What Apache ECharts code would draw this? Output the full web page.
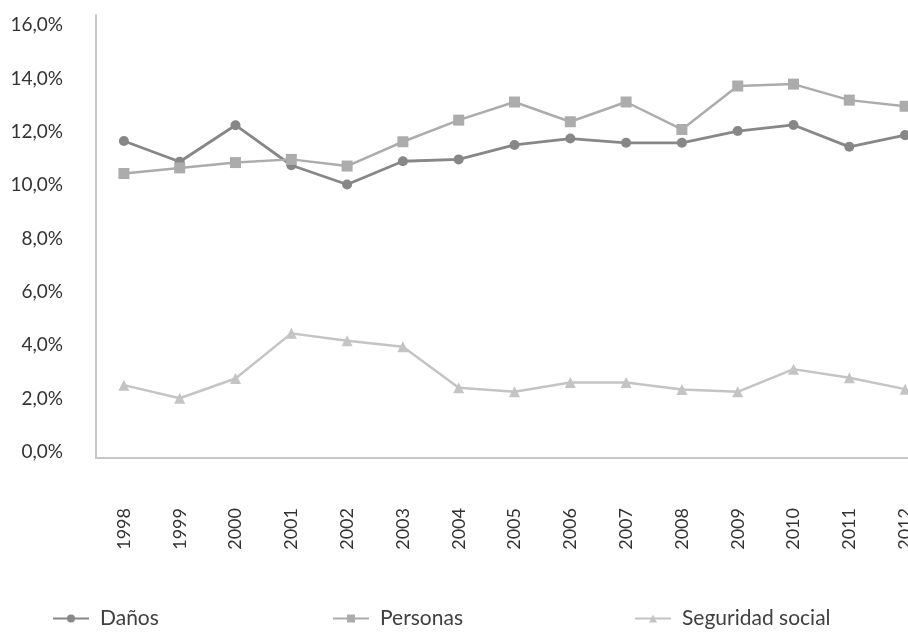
<!DOCTYPE html>
<html>
<head>
<meta charset="utf-8">
<script src="https://cdn.jsdelivr.net/npm/echarts@6/dist/echarts.min.js"></script>
<style>
  html, body { margin: 0; padding: 0; background: #fff; }
  #root { width: 908px; height: 636px; }
</style>
</head>
<body>
<div id="root"></div>
<script>
const years = ['1998', '1999', '2000', '2001', '2002', '2003', '2004', '2005',
               '2006', '2007', '2008', '2009', '2010', '2011', '2012']
const danos = [11.88, 11.10, 12.47, 10.97, 10.25, 11.12, 11.19, 11.73,
               11.97, 11.81, 11.81, 12.25, 12.48, 11.66, 12.10]
const personas = [10.66, 10.87, 11.07, 11.19, 10.94, 11.85, 12.66, 13.34,
                  12.60, 13.34, 12.31, 13.94, 14.01, 13.41, 13.18]
const seguridad = [2.73, 2.24, 2.98, 4.67, 4.39, 4.17, 2.63, 2.48,
                   2.83, 2.83, 2.57, 2.48, 3.33, 3.01, 2.58]
const yTicks = [0, 2, 4, 6, 8, 10, 12, 14, 16]

const font = 'Lato'
const chart = echarts.init(document.getElementById('root'))

const legendAt = (name, left) => ({
    data: [name],
    left: left,
    top: 603,
    itemWidth: 36,
    itemHeight: 10,
    textStyle: { fontFamily: font, fontSize: 21, color: '#404040', padding: [0, 0, 0, 6] }
})

const lineSeries = (name, data, color, symbol, size, width) => ({
    name: name,
    type: 'line',
    data: data,
    symbol: symbol,
    symbolSize: size,
    lineStyle: { color: color, width: width },
    itemStyle: { color: color },
    animation: false
})

chart.setOption({
    grid: { left: 96, top: 15, width: 837, height: 443, outerBoundsMode: 'none', containLabel: false },
    legend: [
        legendAt('Daños', 47),
        legendAt('Personas', 327),
        legendAt('Seguridad social', 629)
    ],
    xAxis: {
        type: 'category',
        data: years,
        boundaryGap: true,
        axisLine: { lineStyle: { color: '#c8c8c8', width: 2 } },
        axisTick: { show: false },
        axisLabel: { rotate: 90, margin: 50, fontFamily: font, fontSize: 18, color: '#333', interval: 0 }
    },
    yAxis: {
        type: 'value',
        min: 0,
        max: 16.6,
        interval: 2,
        axisLine: { show: true, lineStyle: { color: '#c8c8c8', width: 2 } },
        axisTick: { show: false },
        splitLine: { show: false },
        axisLabel: {
            showMaxLabel: false,
            margin: 33,
            fontFamily: font,
            fontSize: 19,
            color: '#333',
            verticalAlign: 'bottom',
            lineHeight: 12,
            formatter: v => yTicks.includes(v) ? v.toFixed(1).replace('.', ',') + '%' : ''
        }
    },
    series: [
        lineSeries('Daños', danos, '#878787', 'circle', 10, 2.8),
        lineSeries('Personas', personas, '#acacac', 'rect', 11, 2.5),
        lineSeries('Seguridad social', seguridad, '#c4c4c4', 'triangle', 11, 2.5)
    ]
})
</script>
</body>
</html>
